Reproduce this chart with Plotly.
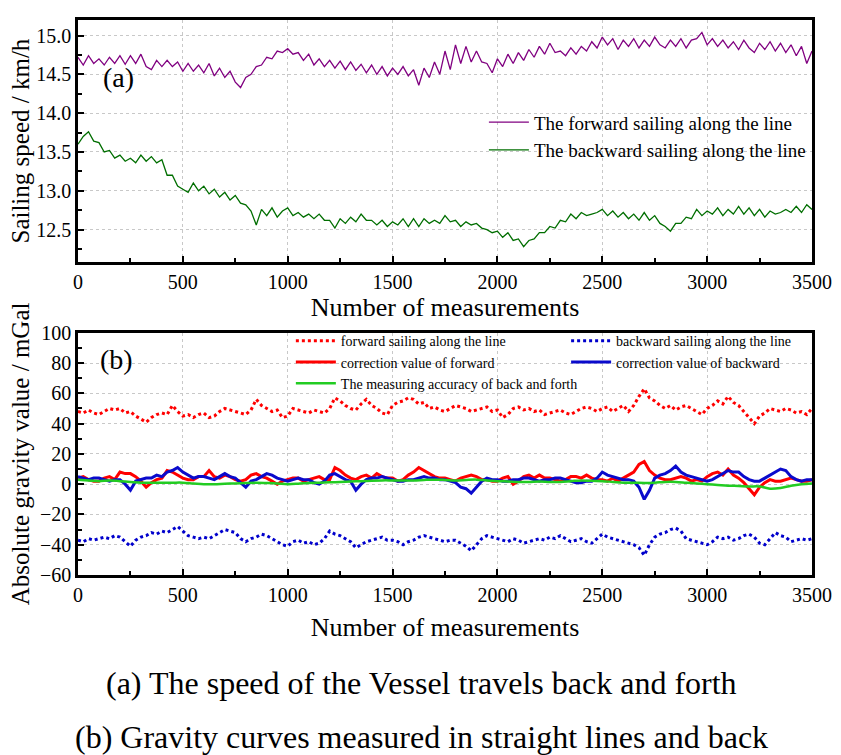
import plotly.graph_objects as go

# ---------------- data ----------------
x25 = list(range(0, 3501, 25))
x50 = list(range(0, 3501, 50))

speed_forward = [
    14.72, 14.62, 14.74, 14.64, 14.70, 14.62, 14.72, 14.64, 14.74, 14.63,
    14.74, 14.64, 14.76, 14.60, 14.56, 14.68, 14.60, 14.68, 14.60, 14.66,
    14.54, 14.64, 14.54, 14.62, 14.52, 14.64, 14.48, 14.58, 14.46, 14.54,
    14.40, 14.33, 14.46, 14.50, 14.60, 14.62, 14.72, 14.70, 14.80, 14.78,
    14.83, 14.76, 14.78, 14.68, 14.76, 14.62, 14.70, 14.60, 14.68, 14.58,
    14.67, 14.56, 14.66, 14.55, 14.63, 14.52, 14.62, 14.50, 14.60, 14.48,
    14.58, 14.50, 14.60, 14.48, 14.56, 14.36, 14.58, 14.46, 14.66, 14.50,
    14.80, 14.56, 14.88, 14.64, 14.86, 14.66, 14.80, 14.66, 14.64, 14.52,
    14.70, 14.60, 14.76, 14.64, 14.78, 14.68, 14.82, 14.72, 14.86, 14.76,
    14.90, 14.78, 14.80, 14.74, 14.84, 14.76, 14.86, 14.80, 14.92, 14.84,
    14.98, 14.88, 14.96, 14.82, 14.94, 14.86, 14.96, 14.84, 14.94, 14.86,
    14.98, 14.88, 14.84, 14.94, 14.86, 14.96, 14.84, 14.94, 14.96, 15.04,
    14.88, 14.96, 14.86, 14.94, 14.84, 14.92, 14.82, 14.94, 14.84, 14.78,
    14.90, 14.82, 14.92, 14.80, 14.90, 14.78, 14.88, 14.74, 14.86, 14.64,
    14.80,
]

speed_backward = [
    13.60, 13.70, 13.76, 13.64, 13.62, 13.50, 13.52, 13.42, 13.46, 13.38,
    13.42, 13.36, 13.46, 13.38, 13.44, 13.36, 13.40, 13.20, 13.20, 13.06,
    13.02, 12.98, 13.10, 13.00, 13.06, 12.96, 13.02, 12.92, 12.98, 12.88,
    12.94, 12.84, 12.82, 12.74, 12.56, 12.76, 12.68, 12.78, 12.66, 12.74,
    12.78, 12.68, 12.72, 12.66, 12.70, 12.64, 12.70, 12.62, 12.62, 12.52,
    12.64, 12.58, 12.66, 12.60, 12.70, 12.62, 12.62, 12.56, 12.62, 12.54,
    12.60, 12.56, 12.64, 12.54, 12.64, 12.54, 12.64, 12.58, 12.62, 12.58,
    12.68, 12.60, 12.62, 12.54, 12.60, 12.56, 12.58, 12.52, 12.50, 12.46,
    12.48, 12.40, 12.46, 12.36, 12.38, 12.28, 12.36, 12.38, 12.46, 12.46,
    12.54, 12.52, 12.62, 12.60, 12.70, 12.64, 12.72, 12.68, 12.70, 12.72,
    12.76, 12.68, 12.74, 12.66, 12.72, 12.64, 12.70, 12.62, 12.72, 12.62,
    12.68, 12.58, 12.54, 12.48, 12.58, 12.58, 12.66, 12.64, 12.76, 12.68,
    12.74, 12.70, 12.78, 12.68, 12.76, 12.70, 12.80, 12.70, 12.78, 12.68,
    12.76, 12.66, 12.74, 12.70, 12.72, 12.76, 12.72, 12.80, 12.72, 12.82,
    12.76,
]

grav_forward = [
    48, 47, 49, 47, 46, 48, 50, 49, 50, 47,
    48, 45, 43, 41, 44, 46, 47, 46, 52, 48,
    45, 46, 44, 46, 47, 44, 45, 48, 50, 49,
    48, 47, 46, 49, 56, 52, 50, 48, 49, 44,
    45, 50, 49, 48, 47, 49, 48, 47, 50, 57,
    55, 52, 50, 49, 53, 56, 52, 50, 47, 46,
    52, 54, 55, 57, 56, 53, 54, 50, 51, 49,
    48, 50, 52, 51, 50, 48, 49, 50, 51, 48,
    49, 44, 46, 50, 51, 49, 50, 48, 49, 46,
    47, 48, 49, 47, 46, 48, 50, 51, 50, 48,
    50, 51, 48, 50, 52, 48, 52, 58, 63, 57,
    55, 52, 50, 52, 49, 51, 52, 50, 48, 46,
    50, 52, 55, 53, 58, 54, 52, 48, 44, 40,
    45, 47, 50, 49, 48, 50, 49, 47, 48, 46,
    50,
]

grav_backward = [
    -37, -38, -36, -37, -36, -35, -36, -34, -35, -38,
    -41, -37, -35, -34, -32, -33, -31, -32, -30, -28,
    -31, -34, -35, -36, -35, -36, -34, -32, -30, -31,
    -32, -36, -38, -36, -35, -33, -34, -36, -38, -40,
    -41, -38, -37, -39, -38, -40, -39, -36, -31, -33,
    -34, -36, -38, -42, -40, -38, -37, -36, -35, -37,
    -37, -38, -40, -38, -37, -35, -34, -35, -36, -37,
    -38, -37, -37, -39, -41, -44, -40, -36, -34, -35,
    -36, -37, -38, -36, -37, -39, -38, -37, -36, -37,
    -35, -36, -34, -36, -38, -37, -36, -38, -39, -36,
    -33, -35, -36, -37, -38, -39, -40, -42, -47, -40,
    -35, -33, -32, -30, -29, -31, -36, -37, -38, -39,
    -40, -38, -35, -36, -35, -37, -36, -34, -33, -35,
    -39, -40, -36, -32, -34, -35, -38, -37, -36, -37,
    -36,
]

corr_forward = [
    4, 5, 3, 2, 2, 4, 5, 3, 8, 7,
    7, 5, 2, -2, 1, 3, 4, 9, 8, 6,
    4, 3, 3, 5, 5, 9, 5, 4, 6, 5,
    3, 2, 3, 6, 7, 5, 4, 2, 0, 2,
    3, 4, 4, 2, 3, 4, 5, 3, 3, 11,
    9, 6, 4, 3, 5, 6, 4, 7, 5, 4,
    4, 2, 3, 6, 8, 11, 9, 7, 5, 4,
    4, 3, 2, 4, 5, 6, 5, 3, 3, 2,
    2, 4, 5, 0, 2, 5, 6, 4, 6, 4,
    4, 3, 2, 3, 5, 5, 4, 6, 4, 3,
    3, 2, 4, 2, 4, 6, 8, 13, 15, 9,
    6, 4, 3, 3, 4, 5, 4, 2, 3, 2,
    5, 7, 8, 6, 10, 6, 4, 1, -3, -7,
    -2, 1, 3, 2, 2, 3, 4, 3, 2, 2,
    3,
]

corr_backward = [
    5, 4, 3, 4, 4, 3, 2, 3, 3, 0,
    -4, 2, 3, 4, 4, 6, 5, 8, 9, 11,
    8, 6, 4, 5, 5, 4, 3, 5, 7, 5,
    4, 1, -2, 2, 3, 5, 7, 6, 4, 3,
    2, 3, 4, 3, 3, 1, 0, 2, 6, 7,
    5, 3, 2, -4, 0, 3, 4, 4, 5, 4,
    3, 2, 2, 3, 3, 4, 5, 4, 4, 3,
    3, 2, 1, -2, -3, -6, -2, 2, 4, 3,
    3, 2, 2, 3, 3, 4, 4, 3, 2, 3,
    3, 4, 4, 3, 2, 1, 1, 2, 2, 4,
    8, 6, 5, 4, 3, 3, 2, -2, -10, -4,
    4, 6, 7, 9, 12, 8, 6, 5, 4, 3,
    2, 3, 5, 7, 9, 8, 8, 5, 3, 2,
    2, 4, 6, 8, 10, 9, 5, 3, 2, 3,
    3,
]

accuracy = [
    3, 2.5, 2, 2.5, 2, 1.5, 1, 1, 1, 1,
    1, 0.5, 0, 0, 0.3, 0.5, 0.8, 1, 0.8, 0.5,
    0, 0.3, 0.8, 1, 1.2, 1.5, 1.8, 2, 2.3, 2.5,
    2.5, 2.5, 2.5, 2.8, 3, 2.8, 2.5, 2.8, 3, 2.5,
    2, 1.8, 1.5, 1.5, 1.8, 1.5, 1.5, 2, 2.5, 2.2,
    2, 1.5, 1, 1, 0.8, 1, 1.5, 1.5, 1, 0.5,
    0, -0.5, -1, -1.2, -1.5, -1.5, -3, -2.5, -1, 0,
    0.5,
]

x_ticks = [0, 500, 1000, 1500, 2000, 2500, 3000, 3500]
speed_ticks = [12.5, 13.0, 13.5, 14.0, 14.5, 15.0]
grav_ticks = [-60, -40, -20, 0, 20, 40, 60, 80, 100]

# ---------------- figure ----------------
SERIF = "Liberation Serif"
fig = go.Figure()

fig.add_trace(go.Scatter(x=x25, y=speed_forward, mode="lines", name="The forward sailing along the line",
                         line=dict(color="#800080", width=1.3), xaxis="x", yaxis="y", legend="legend"))
fig.add_trace(go.Scatter(x=x25, y=speed_backward, mode="lines", name="The backward sailing along the line",
                         line=dict(color="#006e00", width=1.3), xaxis="x", yaxis="y", legend="legend"))

fig.add_trace(go.Scatter(x=x25, y=grav_forward, mode="lines", name="forward sailing along the line",
                         line=dict(color="#ff0000", width=3, dash="dot"), xaxis="x2", yaxis="y2", legend="legend2"))
fig.add_trace(go.Scatter(x=x25, y=grav_backward, mode="lines", name="backward sailing along the line",
                         line=dict(color="#0000cc", width=3, dash="dot"), xaxis="x2", yaxis="y2", legend="legend3"))
fig.add_trace(go.Scatter(x=x25, y=corr_forward, mode="lines", name="correction value of forward",
                         line=dict(color="#ff0000", width=3), xaxis="x2", yaxis="y2", legend="legend2"))
fig.add_trace(go.Scatter(x=x25, y=corr_backward, mode="lines", name="correction value of backward",
                         line=dict(color="#0a0acc", width=3), xaxis="x2", yaxis="y2", legend="legend3"))
fig.add_trace(go.Scatter(x=x50, y=accuracy, mode="lines", name="The measuring accuracy of back and forth",
                         line=dict(color="#22cc22", width=2.5, shape="spline"), xaxis="x2", yaxis="y2", legend="legend2"))

axis_common = dict(
    showline=True, linecolor="black", linewidth=2.5, mirror=True,
    ticks="inside", ticklen=6, tickwidth=2, tickcolor="black",
    showgrid=True, gridcolor="#c8c8c8", griddash="dot", gridwidth=1,
    zeroline=False,
    tickfont=dict(family=SERIF, size=20, color="black"),
)

top_dom = [0.5636, 1.0]
bot_dom = [0.0, 0.4364]
minor_x = dict(ticks="inside", ticklen=4, tickwidth=2, tickcolor="black", dtick=250, showgrid=False)

fig.update_layout(
    width=841, height=755,
    margin=dict(l=78, r=24, t=9, b=180),
    paper_bgcolor="white", plot_bgcolor="white",
    font=dict(family=SERIF, color="black"),
    xaxis=dict(axis_common, domain=[0, 1], anchor="y", range=[0, 3500],
               tickvals=x_ticks, minor=minor_x,
               title=dict(text="Number of measurements", font=dict(family=SERIF, size=26), standoff=0)),
    yaxis=dict(axis_common, domain=top_dom, anchor="x", range=[12.08, 15.2],
               tickvals=speed_ticks, ticktext=[f"{v:.1f}" for v in speed_ticks],
               minor=dict(ticks="inside", ticklen=4, tickwidth=2, tickcolor="black", dtick=0.25, showgrid=False),
               title=dict(text="Sailing speed / km/h", font=dict(family=SERIF, size=25), standoff=0)),
    xaxis2=dict(axis_common, domain=[0, 1], anchor="y2", range=[0, 3500],
                tickvals=x_ticks, minor=minor_x,
                title=dict(text="Number of measurements", font=dict(family=SERIF, size=26), standoff=14)),
    yaxis2=dict(axis_common, domain=bot_dom, anchor="x2", range=[-60, 100],
                tickvals=grav_ticks,
                minor=dict(ticks="inside", ticklen=4, tickwidth=2, tickcolor="black", dtick=10, showgrid=False),
                title=dict(text="Absolute gravity value / mGal", font=dict(family=SERIF, size=25), standoff=4)),
    legend=dict(x=0.553, y=0.85, xanchor="left", yanchor="top", bgcolor="rgba(0,0,0,0)",
                font=dict(family=SERIF, size=19), tracegroupgap=0, itemwidth=40),
    legend2=dict(x=0.29, y=0.45, xanchor="left", yanchor="top", bgcolor="rgba(0,0,0,0)",
                 font=dict(family=SERIF, size=14), tracegroupgap=0, itemwidth=40),
    legend3=dict(x=0.665, y=0.45, xanchor="left", yanchor="top", bgcolor="rgba(0,0,0,0)",
                 font=dict(family=SERIF, size=14), tracegroupgap=0, itemwidth=40),
    annotations=[
        dict(text="(a)", x=0.055, y=0.896, xref="paper", yref="paper", showarrow=False,
             font=dict(family=SERIF, size=28), xanchor="center", yanchor="middle"),
        dict(text="(b)", x=0.053, y=0.389, xref="paper", yref="paper", showarrow=False,
             font=dict(family=SERIF, size=28), xanchor="center", yanchor="middle"),
        dict(text="(a) The speed of the Vessel travels back and forth", x=0.468, y=-0.194,
             xref="paper", yref="paper", showarrow=False, font=dict(family=SERIF, size=32),
             xanchor="center", yanchor="middle"),
        dict(text="(b) Gravity curves measured in straight lines and back", x=0.468, y=-0.292,
             xref="paper", yref="paper", showarrow=False, font=dict(family=SERIF, size=32),
             xanchor="center", yanchor="middle"),
    ],
)

fig.write_html("out.html")
